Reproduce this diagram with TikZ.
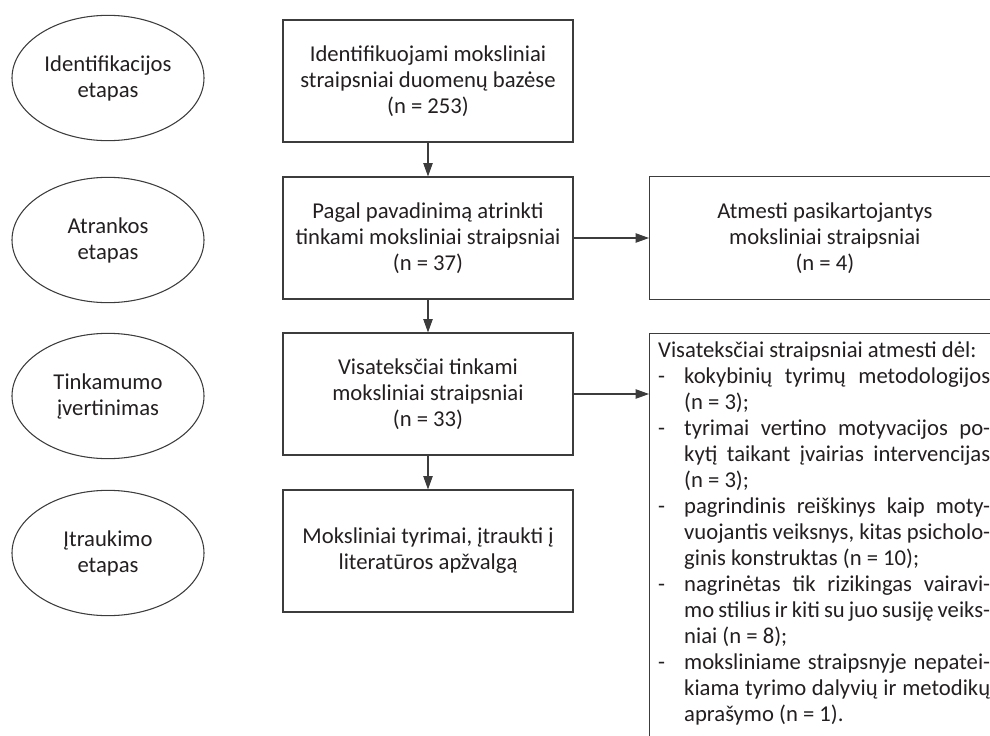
\documentclass[tikz,border=0pt]{standalone}
\usepackage{fontspec}
\setmainfont{Carlito}
\usetikzlibrary{arrows.meta,shapes.geometric}
\definecolor{linegray}{RGB}{60,60,60}
\definecolor{textblack}{RGB}{35,31,32}
\newlength{\jw}
\setlength{\jw}{229.5pt}
\newcommand{\jline}[1]{\makebox[\jw][s]{\spaceskip=0pt\xspaceskip=0pt #1}}
\newcommand{\dashitem}{\makebox[19.5pt][l]{-}}
\newcommand{\inditem}{\hspace*{19.5pt}}
\tikzset{txt/.style={font=\fontsize{17}{19.5}\selectfont,text=textblack,execute at begin node={\spaceskip=0pt\xspaceskip=0pt\lineskiplimit=-20pt\lineskip=0pt}},stage/.style={ellipse,draw=linegray,line width=0.8pt,txt,align=center,minimum width=144pt,minimum height=94pt,inner sep=0pt},box/.style={draw=linegray,line width=0.8pt,txt,align=center,minimum width=217.5pt,minimum height=91.5pt,inner sep=0pt},edge/.style={-{Triangle[length=10pt,width=7pt]},draw=linegray,line width=0.8pt}}

\begin{document}
\begin{tikzpicture}[x=0.75pt,y=-0.75pt]
\useasboundingbox (0,0) rectangle (990,736);
\clip (0,0) rectangle (990,736);
\node[stage] (identst) at (108,78) {Identifikacijos\\etapas};
\node[stage] (atrankst) at (108,240) {Atrankos\\etapas};
\node[stage] (tinkst) at (108,396) {Tinkamumo\\įvertinimas};
\node[stage] (itraukst) at (108,553) {Įtraukimo\\etapas};
\node[box] (ident) at (428,81) {Identifikuojami moksliniai\\straipsniai duomenų bazėse\\(n = 253)};
\node[box] (atrank) at (428,238) {Pagal pavadinimą atrinkti\\tinkami moksliniai straipsniai\\(n = 37)};
\node[box] (tinkam) at (428,394) {Visateksčiai tinkami\\moksliniai straipsniai\\(n = 33)};
\node[box] (itrauk) at (428,551) {Moksliniai tyrimai, įtraukti į\\literatūros apžvalgą};
\node[box,anchor=west,minimum width=263pt,minimum height=92pt] (dupl) at (649,238) {Atmesti pasikartojantys\\moksliniai straipsniai\\(n = 4)};
\node[box,anchor=north west,align=left,text width=249pt,inner xsep=6.5pt,inner ysep=6.5pt,minimum height=0pt] (excl) at (649,333)
{Visateksčiai straipsniai atmesti dėl:\\
\dashitem\jline{kokybinių tyrimų metodologijos}\\
\inditem(n = 3);\\
\dashitem\jline{tyrimai vertino motyvacijos po-}\\
\inditem\jline{kytį taikant įvairias intervencijas}\\
\inditem(n = 3);\\
\dashitem\jline{pagrindinis reiškinys kaip moty-}\\
\inditem\jline{vuojantis veiksnys, kitas psicholo-}\\
\inditem ginis konstruktas (n = 10);\\
\dashitem\jline{nagrinėtas tik rizikingas vairavi-}\\
\inditem\jline{mo stilius ir kiti su juo susiję veiks-}\\
\inditem niai (n = 8);\\
\dashitem\jline{moksliniame straipsnyje nepatei-}\\
\inditem\jline{kiama tyrimo dalyvių ir metodikų}\\
\inditem aprašymo (n = 1).\rule[-20pt]{0pt}{20pt}};
\draw[edge] (ident)--(atrank);
\draw[edge] (atrank)--(tinkam);
\draw[edge] (tinkam)--(itrauk);
\draw[edge] (atrank)--(dupl);
\draw[edge] (tinkam.east)--(tinkam.east-|excl.west);
\end{tikzpicture}
\end{document}
